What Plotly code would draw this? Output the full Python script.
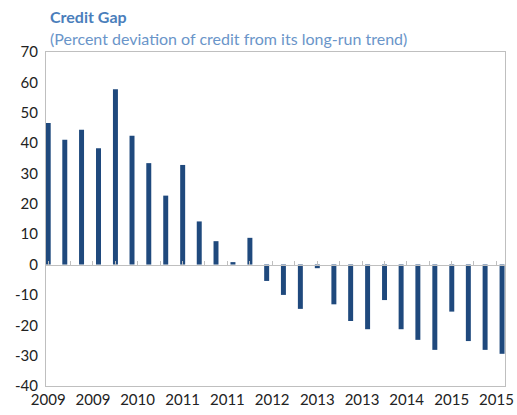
import plotly.graph_objects as go
import pandas as pd

# quarterly credit gap, 2009Q1 - 2015Q4
quarters = pd.date_range("2009-01-01", periods=28, freq="QS")
credit_gap = [46.6, 41.1, 44.4, 38.3, 57.7, 42.4, 33.4, 22.7, 32.8, 14.2,
              7.7, 0.8, 8.8, -5.4, -10.0, -14.6, -1.2, -13.1, -18.6, -21.3,
              -11.7, -21.3, -24.8, -28.1, -15.5, -25.2, -28.1, -29.4]

label_dates = pd.date_range("2009-01-01", "2015-12-01", freq="8MS")
tick_dates = pd.date_range("2009-01-01", "2015-12-01", freq="4MS")
y_ticks = list(range(-40, 71, 10))

x_range = ["2008-12-20", "2015-10-17"]
frame = "#bfbfbf"

fig = go.Figure()
fig.add_trace(go.Bar(
    x=quarters,
    y=credit_gap,
    width=27 * 24 * 3600 * 1000,
    marker_color="#1f497d",
    marker_line_width=0,
))
# empty trace so the zero-line axis gets drawn
fig.add_trace(go.Scatter(x=quarters, y=credit_gap, xaxis="x2",
                         mode="none", hoverinfo="skip"))

fig.update_layout(
    width=517, height=415,
    margin=dict(l=46, r=12, t=52, b=29),
    plot_bgcolor="white", paper_bgcolor="white",
    font=dict(family="Lato", size=15, color="#222222"),
    showlegend=False,
    xaxis=dict(
        type="date", range=x_range, automargin=False,
        tickvals=label_dates, tickformat="%Y",
        showgrid=False, zeroline=False,
        showline=True, mirror=True, linecolor=frame, linewidth=1,
        ticks="",
    ),
    xaxis2=dict(
        type="date", range=x_range, overlaying="x", automargin=False,
        anchor="free", position=40 / 110, side="top",
        tickvals=tick_dates, showticklabels=False,
        ticks="outside", ticklen=4, tickcolor=frame,
        showline=True, linecolor=frame, linewidth=1,
        showgrid=False, zeroline=False,
    ),
    yaxis=dict(
        range=[-40, 70], tickvals=y_ticks,
        ticktext=[str(v) for v in y_ticks], automargin=False,
        showgrid=False, zeroline=False,
        showline=True, mirror=True, linecolor=frame, linewidth=1,
        ticks="", ticklabelstandoff=4,
    ),
    annotations=[
        dict(text="<b>Credit Gap</b>", xref="paper", yref="paper",
             x=0.004, y=1.105, xanchor="left", yanchor="middle",
             showarrow=False, font=dict(size=16, color="#4a7ebb")),
        dict(text="(Percent deviation of credit from its long-run trend)",
             xref="paper", yref="paper", x=0.004, y=1.04,
             xanchor="left", yanchor="middle", showarrow=False,
             font=dict(size=16, color="#6a95c9")),
    ],
)

fig.write_html("out.html", config={"displayModeBar": False},
               post_script="document.body.style.margin='0px';")
